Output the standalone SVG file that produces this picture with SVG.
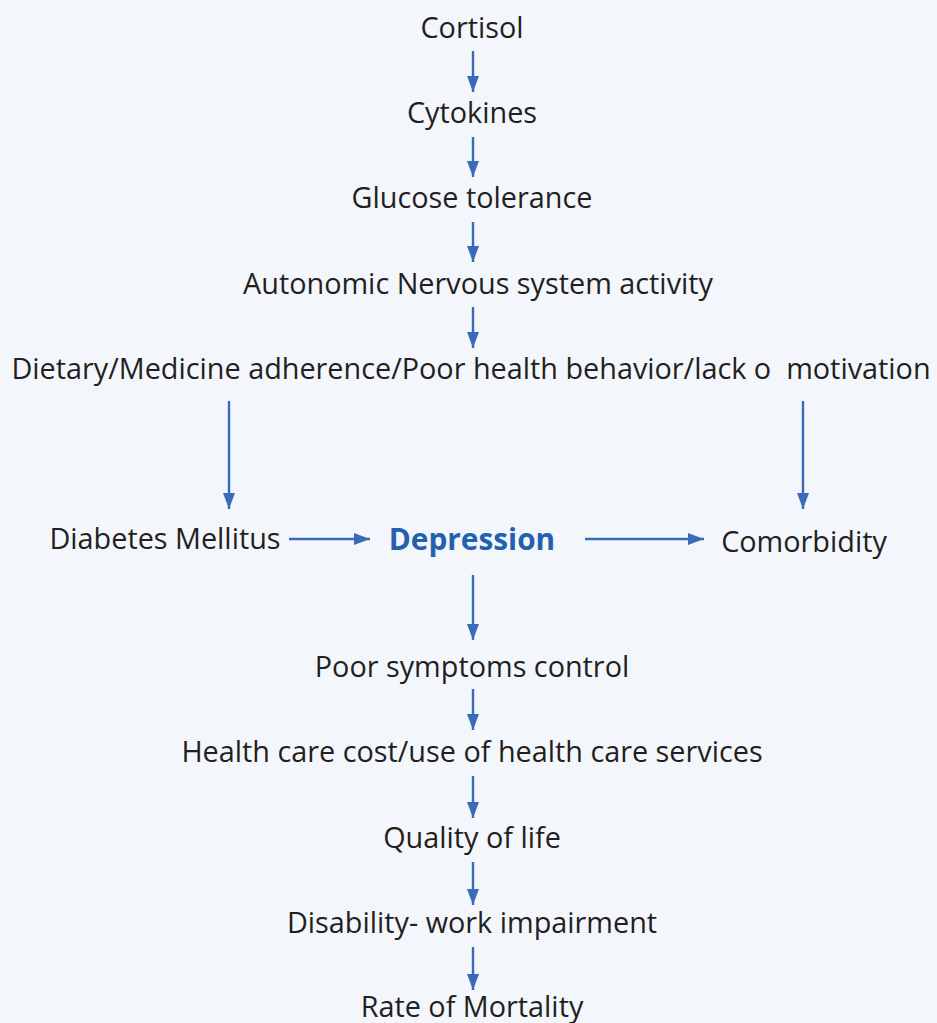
<svg xmlns="http://www.w3.org/2000/svg" width="937" height="1023" viewBox="0 0 937 1023">
<defs>
<marker id="ah" viewBox="0 0 16 12" refX="16" refY="6" markerWidth="16" markerHeight="12" markerUnits="userSpaceOnUse" orient="auto">
<path d="M0,0 L16,6 L0,12 Z" fill="#3a6bb8"/>
</marker>
<style>
.t{font-family:"Open Sans","Noto Sans",sans-serif;font-size:28.8px;fill:#231f20;text-anchor:middle;white-space:pre}
.b{font-weight:bold;fill:#2361b0;font-size:29.8px}
.c{stroke:#3a6bb8;stroke-width:2.4;fill:none;marker-end:url(#ah)}
</style>
</defs>
<rect width="937" height="1023" fill="#f3f6fb"/>
<g id="n-cortisol"><text class="t" x="472" y="38">Cortisol</text></g>
<g id="n-cytokines"><text class="t" x="472" y="123">Cytokines</text></g>
<g id="n-glucose"><text class="t" x="472" y="208">Glucose tolerance</text></g>
<g id="n-ans"><text class="t" x="478" y="294">Autonomic Nervous system activity</text></g>
<g id="n-dietary"><text class="t" x="471" y="379" xml:space="preserve">Dietary/Medicine adherence/Poor health behavior/lack o  motivation</text></g>
<g id="n-diabetes"><text class="t" x="165" y="549">Diabetes Mellitus</text></g>
<g id="n-depression"><text class="t b" x="472" y="550">Depression</text></g>
<g id="n-comorbidity"><text class="t" x="804" y="552">Comorbidity</text></g>
<g id="n-poor"><text class="t" x="472" y="677">Poor symptoms control</text></g>
<g id="n-cost"><text class="t" x="472" y="762">Health care cost/use of health care services</text></g>
<g id="n-qol"><text class="t" x="472" y="848">Quality of life</text></g>
<g id="n-disability"><text class="t" x="472" y="933">Disability- work impairment</text></g>
<g id="n-mortality"><text class="t" x="472" y="1017">Rate of Mortality</text></g>
<g id="connectors">
<line class="c" x1="473" y1="51" x2="473" y2="92"/>
<line class="c" x1="473" y1="137" x2="473" y2="177"/>
<line class="c" x1="473" y1="222" x2="473" y2="262"/>
<line class="c" x1="473" y1="307" x2="473" y2="348"/>
<line class="c" x1="229" y1="401" x2="229" y2="509"/>
<line class="c" x1="803" y1="401" x2="803" y2="509"/>
<line class="c" x1="289" y1="539" x2="370" y2="539"/>
<line class="c" x1="585" y1="539" x2="704" y2="539"/>
<line class="c" x1="473" y1="575" x2="473" y2="640"/>
<line class="c" x1="473" y1="689" x2="473" y2="730"/>
<line class="c" x1="473" y1="776" x2="473" y2="818"/>
<line class="c" x1="473" y1="862" x2="473" y2="905"/>
<line class="c" x1="473" y1="947" x2="473" y2="990"/>
</g>
</svg>
